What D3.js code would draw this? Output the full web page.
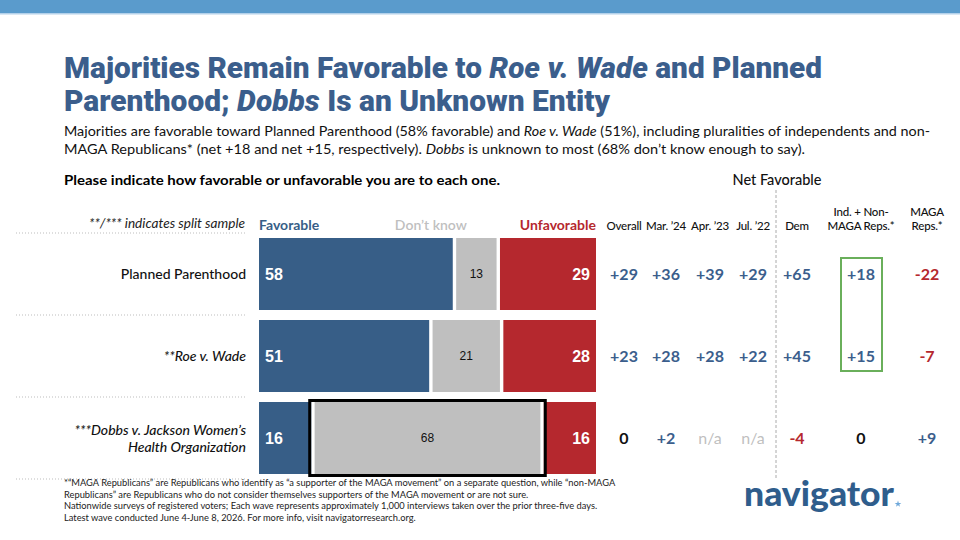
<!DOCTYPE html>
<html>
<head>
<meta charset="utf-8">
<script src="https://cdn.jsdelivr.net/npm/d3@7"></script>
<style>
  body { margin: 0; background: #fff; }
  svg { display: block; font-family: Lato, "Open Sans", sans-serif; }
</style>
</head>
<body>
<div id="chart"></div>
<script>
// data
var items = ["Planned Parenthood", "**Roe v. Wade", "***Dobbs v. Jackson Women's Health Organization"];
var itemLines = [["Planned Parenthood"], ["**Roe v. Wade"], ["***Dobbs v. Jackson Women\u2019s", "Health Organization"]];
var itemItalic = [false, true, true];
var favorable = [58, 51, 16];
var dontKnow = [13, 21, 68];
var unfavorable = [29, 28, 16];

var netColumns = ["Overall", "Mar. \u201924", "Apr. \u201923", "Jul. \u201922", "Dem", "Ind. + Non-MAGA Reps.*", "MAGA Reps.*"];
var netHeaderLines = [["Overall"], ["Mar. \u201924"], ["Apr. \u201923"], ["Jul. \u201922"], ["Dem"], ["Ind. + Non-", "MAGA Reps.*"], ["MAGA", "Reps.*"]];
var netOverall = [29, 23, 0];
var netMar24 = [36, 28, 2];
var netApr23 = [39, 28, null];
var netJul22 = [29, 22, null];
var netDem = [65, 45, -4];
var netIndNonMaga = [18, 15, 0];
var netMaga = [-22, -7, 9];
var netSeries = [netOverall, netMar24, netApr23, netJul22, netDem, netIndNonMaga, netMaga];

var footnotes = [
  "*\u201CMAGA Republicans\u201D are Republicans who identify as \u201Ca supporter of the MAGA movement\u201D on a separate question, while \u201Cnon-MAGA",
  "Republicans\u201D are Republicans who do not consider themselves supporters of the MAGA movement or are not sure.",
  "Nationwide surveys of registered voters; Each wave represents approximately 1,000 interviews taken over the prior three-five days.",
  "Latest wave conducted June 4-June 8, 2026. For more info, visit navigatorresearch.org."
];

var blue = "#375e87", grey = "#bfbfbf", red = "#b5282e", titleBlue = "#3b5e8c";

var width = 960, height = 540;
var svg = d3.select("#chart").append("svg")
    .attr("width", width)
    .attr("height", height);

// top band
svg.append("rect").attr("x", 0).attr("y", 0).attr("width", width).attr("height", 13).attr("fill", "#5a9bcc");
svg.append("rect").attr("x", 0).attr("y", 13).attr("width", width).attr("height", 1.5).attr("fill", "#b4d1ea");

// title
var title = svg.append("g").attr("font-family", "Roboto, sans-serif").attr("font-weight", 900)
    .attr("font-size", 29).attr("fill", titleBlue);
var t1 = title.append("text").attr("x", 64).attr("y", 78).attr("textLength", 758).attr("lengthAdjust", "spacingAndGlyphs");
t1.append("tspan").text("Majorities Remain Favorable to ");
t1.append("tspan").attr("font-style", "italic").text("Roe v. Wade");
t1.append("tspan").text(" and Planned");
var t2 = title.append("text").attr("x", 64).attr("y", 111).attr("textLength", 546).attr("lengthAdjust", "spacingAndGlyphs");
t2.append("tspan").text("Parenthood; ");
t2.append("tspan").attr("font-style", "italic").text("Dobbs");
t2.append("tspan").text(" Is an Unknown Entity");

// subtitle
var sub = svg.append("g").attr("font-size", 13.5).attr("fill", "#111");
var s1 = sub.append("text").attr("x", 64).attr("y", 136).attr("textLength", 866).attr("lengthAdjust", "spacingAndGlyphs");
s1.append("tspan").text("Majorities are favorable toward Planned Parenthood (58% favorable) and ");
s1.append("tspan").attr("font-style", "italic").text("Roe v. Wade");
s1.append("tspan").text(" (51%), including pluralities of independents and non-");
var s2 = sub.append("text").attr("x", 64).attr("y", 154).attr("textLength", 741).attr("lengthAdjust", "spacingAndGlyphs");
s2.append("tspan").text("MAGA Republicans* (net +18 and net +15, respectively). ");
s2.append("tspan").attr("font-style", "italic").text("Dobbs");
s2.append("tspan").text(" is unknown to most (68% don\u2019t know enough to say).");

svg.append("text").attr("x", 64).attr("y", 185).attr("font-size", 14).attr("font-weight", 700)
    .attr("textLength", 436).attr("lengthAdjust", "spacingAndGlyphs")
    .text("Please indicate how favorable or unfavorable you are to each one.");

// scales
var x = d3.scaleLinear().domain([0, 100]).range([259, 596]);
var y = d3.scaleBand().domain(items).range([233, 479]).paddingInner(10 / 82).paddingOuter(5 / 82);
var colX = d3.scaleOrdinal().domain(netColumns).range([624, 666, 710, 753, 797, 861, 927]);
var gap = 1.7;

// left label column
svg.append("text").attr("x", 245).attr("y", 228).attr("text-anchor", "end").attr("font-size", 13)
    .attr("font-style", "italic").attr("fill", "#222")
    .attr("textLength", 156).attr("lengthAdjust", "spacingAndGlyphs")
    .text("**/*** indicates split sample");

var seps = [233].concat(items.map(function(d) { return y(d) + y.bandwidth() + (y.step() - y.bandwidth()) / 2; }));
svg.selectAll("line.sep").data(seps).enter().append("line")
    .attr("class", "sep")
    .attr("x1", 16).attr("x2", 245)
    .attr("y1", function(d) { return d; }).attr("y2", function(d) { return d; })
    .attr("stroke", "#bdbdbd").attr("stroke-width", 1.2).attr("stroke-dasharray", "1,2");

var labels = svg.selectAll("text.item").data(items).enter().append("text")
    .attr("class", "item")
    .attr("text-anchor", "end")
    .attr("font-size", 14)
    .attr("font-weight", 500)
    .attr("font-style", function(d, i) { return itemItalic[i] ? "italic" : "normal"; })
    .attr("fill", "#111");
labels.each(function(d, i) {
  var lines = itemLines[i], cy = y(d) + y.bandwidth() / 2;
  var sel = d3.select(this);
  lines.forEach(function(l, j) {
    sel.append("tspan").attr("x", 246)
      .attr("y", cy + 5 + (j - (lines.length - 1) / 2) * 17)
      .text(l);
  });
});

// legend
var legend = svg.append("g").attr("font-size", 14).attr("font-weight", 700);
legend.append("text").attr("x", x(0)).attr("y", 230).attr("fill", blue).text("Favorable");
legend.append("text").attr("x", x(51)).attr("y", 230).attr("text-anchor", "middle").attr("fill", grey).attr("font-weight", 600).text("Don\u2019t know");
legend.append("text").attr("x", x(100)).attr("y", 230).attr("text-anchor", "end").attr("fill", red).text("Unfavorable");

// bars
var rows = svg.selectAll("g.row").data(items).enter().append("g")
    .attr("class", "row")
    .attr("transform", function(d) { return "translate(0," + y(d) + ")"; });

rows.append("rect")
    .attr("x", x(0))
    .attr("width", function(d, i) { return x(favorable[i]) - gap - x(0); })
    .attr("height", y.bandwidth()).attr("fill", blue);
rows.append("rect")
    .attr("x", function(d, i) { return x(favorable[i]) + gap; })
    .attr("width", function(d, i) { return x(favorable[i] + dontKnow[i]) - x(favorable[i]) - 2 * gap; })
    .attr("height", y.bandwidth()).attr("fill", grey);
rows.append("rect")
    .attr("x", function(d, i) { return x(favorable[i] + dontKnow[i]) + gap; })
    .attr("width", function(d, i) { return x(100) - x(favorable[i] + dontKnow[i]) - gap; })
    .attr("height", y.bandwidth()).attr("fill", red);

rows.append("text")
    .attr("x", x(0) + 6).attr("y", y.bandwidth() / 2 + 6)
    .attr("font-family", "Liberation Sans, Arial, sans-serif").attr("font-weight", 700).attr("font-size", 16)
    .attr("fill", "#fff").text(function(d, i) { return favorable[i]; });
rows.append("text")
    .attr("x", function(d, i) { return x(favorable[i] + dontKnow[i] / 2); }).attr("y", y.bandwidth() / 2 + 4)
    .attr("text-anchor", "middle")
    .attr("font-family", "Liberation Sans, Arial, sans-serif").attr("font-size", 12)
    .attr("fill", "#111").text(function(d, i) { return dontKnow[i]; });
rows.append("text")
    .attr("x", x(100) - 6).attr("y", y.bandwidth() / 2 + 6)
    .attr("text-anchor", "end")
    .attr("font-family", "Liberation Sans, Arial, sans-serif").attr("font-weight", 700).attr("font-size", 16)
    .attr("fill", "#fff").text(function(d, i) { return unfavorable[i]; });

// highlight box around Dobbs don't know
var dobbs = items[2];
svg.append("rect")
    .attr("x", x(favorable[2]) - 3.2)
    .attr("y", y(dobbs) - 1.5)
    .attr("width", x(favorable[2] + dontKnow[2]) - x(favorable[2]) + 6.4)
    .attr("height", y.bandwidth() + 3)
    .attr("fill", "none").attr("stroke", "#000").attr("stroke-width", 3);

// net favorable section
svg.append("text").attr("x", 777).attr("y", 185).attr("text-anchor", "middle")
    .attr("font-size", 14.5).attr("font-weight", 500).attr("fill", "#111").text("Net Favorable");
svg.append("line").attr("x1", 776).attr("x2", 776).attr("y1", 190).attr("y2", 479)
    .attr("stroke", "#aaa").attr("stroke-width", 1).attr("stroke-dasharray", "3,2");

var heads = svg.selectAll("text.head").data(netColumns).enter().append("text")
    .attr("class", "head").attr("text-anchor", "middle")
    .attr("font-size", 11.5).attr("font-weight", 500).attr("fill", "#111")
    .attr("letter-spacing", -0.2);
heads.each(function(d, i) {
  var lines = netHeaderLines[i], sel = d3.select(this);
  lines.forEach(function(l, j) {
    sel.append("tspan").attr("x", colX(d)).attr("y", 230 - (lines.length - 1 - j) * 14.5).text(l);
  });
});

// green box around Ind + Non-MAGA
svg.append("rect")
    .attr("x", colX(netColumns[5]) - 20).attr("y", y(items[0]) + 20)
    .attr("width", 41).attr("height", y(items[1]) + y.bandwidth() / 2 + 15 - (y(items[0]) + 20))
    .attr("fill", "none").attr("stroke", "#6aaf5b").attr("stroke-width", 2);

function fmt(v) { return v == null ? "n/a" : v > 0 ? "+" + v : String(v); }
function col(v) { return v == null ? grey : v > 0 ? titleBlue : v < 0 ? red : "#111"; }

netColumns.forEach(function(c, ci) {
  svg.selectAll("text.v" + ci).data(netSeries[ci]).enter().append("text")
    .attr("class", "v" + ci)
    .attr("x", colX(c))
    .attr("y", function(d, i) { return y(items[i]) + y.bandwidth() / 2 + 6; })
    .attr("text-anchor", "middle")
    .attr("font-size", 16).attr("font-weight", function(d) { return d == null ? 400 : 700; })
    .attr("fill", col)
    .text(fmt);
});

// footnotes
svg.selectAll("text.foot").data(footnotes).enter().append("text")
    .attr("class", "foot")
    .attr("x", 64).attr("y", function(d, i) { return 486 + i * 11.5; })
    .attr("font-size", 9.3).attr("fill", "#222")
    .text(function(d) { return d; });

// logo
svg.append("text").attr("x", 744).attr("y", 506)
    .attr("font-family", "Lato, sans-serif").attr("font-weight", 900).attr("font-size", 34)
    .attr("textLength", 150).attr("lengthAdjust", "spacingAndGlyphs")
    .attr("fill", "#2f5d8c").text("navigator");
svg.append("path").attr("transform", "translate(898,504)")
    .attr("d", d3.symbol().type(d3.symbolStar).size(14)()).attr("fill", "#6fa8da");
</script>
</body>
</html>
